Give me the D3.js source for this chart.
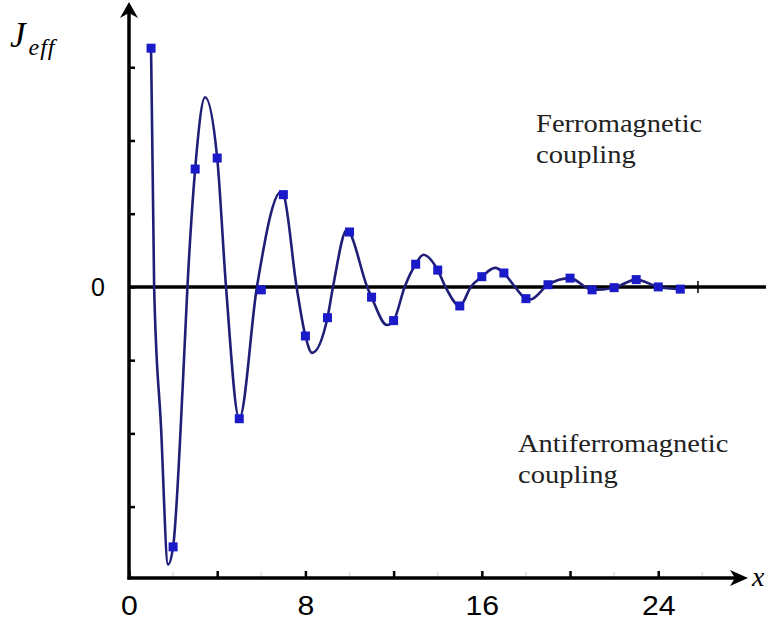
<!DOCTYPE html>
<html>
<head>
<meta charset="utf-8">
<script src="https://cdn.jsdelivr.net/npm/d3@7"></script>
<style>
  html, body { margin: 0; padding: 0; background: #ffffff; }
  svg { display: block; }
</style>
</head>
<body>
<svg id="chart" width="766" height="628"></svg>
<script>
// ---- Data ----
// Marker squares (computed values at integer x)
const markerX = [1, 2, 3, 4, 5, 6, 7, 8, 9, 10, 11, 12, 13, 14, 15, 16, 17, 18, 19, 20, 21, 22, 23, 24, 25];
const markerJ = [3.26, -3.55, 1.61, 1.76, -1.80, -0.04, 1.26, -0.67, -0.42, 0.75, -0.14, -0.46, 0.31, 0.23,
                 -0.26, 0.14, 0.19, -0.16, 0.03, 0.12, -0.04, -0.01, 0.10, 0.00, -0.03];
// Continuous curve (extrema and zero crossings included)
const curveX = [1.00, 1.14, 1.45, 1.77, 2.00, 2.45, 2.65, 3.00, 3.45, 4.00, 4.40, 5.00, 5.80, 6.90, 7.00,
                7.60, 8.00, 8.30, 9.00, 9.25, 9.90, 10.00, 10.80, 11.00, 11.70, 12.00, 12.50, 13.00, 13.35,
                14.00, 14.35, 15.00, 15.50, 16.00, 16.60, 17.00, 17.50, 18.00, 18.20, 19.00, 20.00, 21.00,
                22.00, 23.00, 24.00, 25.00];
const curveJ = [3.26, 0.00, -1.90, -3.79, -3.55, -1.27, 0.00, 1.61, 2.59, 1.76, 0.00, -1.80, 0.00, 1.30, 1.27,
                0.00, -0.67, -0.90, -0.42, 0.00, 0.79, 0.75, 0.00, -0.14, -0.52, -0.46, 0.00, 0.31, 0.44,
                0.23, 0.00, -0.26, 0.00, 0.14, 0.26, 0.19, 0.00, -0.16, -0.17, 0.03, 0.12, -0.04,
                -0.01, 0.10, 0.00, -0.03];
const xTickValues = [0, 4, 8, 12, 16, 20, 24];
const xTickLabels = {0: "0", 8: "8", 16: "16", 24: "24"};
const xMinorTicks = [2, 6, 10, 14, 18, 22, 26];
const yTickValues = [-3, -2, -1, 0, 1, 2, 3];
const yTickLabels = {0: "0"};
const endTickX = [25.8];
const annotations = [
  {lines: ["Ferromagnetic", "coupling"], x: 18.46, y: 2.12},
  {lines: ["Antiferromagnetic", "coupling"], x: 17.64, y: -2.25}
];

// ---- Layout ----
const svg = d3.select("#chart");
const x = d3.scaleLinear().domain([0, 28.07]).range([129, 748]);
const y = d3.scaleLinear().domain([-3.975, 3.85]).range([578, 5]);

const lineColor = "#1f1f78";
const markColor = "#1a1ac8";

// zero line across the plot
svg.append("line")
  .attr("x1", x(0)).attr("x2", 766)
  .attr("y1", y(0)).attr("y2", y(0))
  .attr("stroke", "#000").attr("stroke-width", 3.5);

// minor x ticks (faint)
svg.append("g").selectAll("line").data(xMinorTicks).join("line")
  .attr("x1", d => x(d)).attr("x2", d => x(d))
  .attr("y1", y(-3.975)).attr("y2", y(-3.975) - 6)
  .attr("stroke", "#e4e4e4").attr("stroke-width", 2);

// x axis via d3 axis
const xAxis = d3.axisBottom(x)
  .tickValues(xTickValues)
  .tickSizeInner(-7).tickSizeOuter(0)
  .tickFormat(d => xTickLabels[d] || "");
const gx = svg.append("g").attr("transform", `translate(0,${y(-3.975)})`).call(xAxis);
gx.select(".domain").remove();
gx.selectAll(".tick line").attr("stroke", "#000").attr("stroke-width", 2.5);
gx.selectAll(".tick text")
  .attr("y", 0).attr("dy", null)
  .attr("transform", "translate(0,37) scale(1.12,1)")
  .attr("font-family", "Liberation Sans, Arial, sans-serif")
  .attr("font-size", 27).attr("fill", "#000");

// y axis via d3 axis
const yAxis = d3.axisLeft(y)
  .tickValues(yTickValues)
  .tickSizeInner(-6).tickSizeOuter(0)
  .tickFormat(d => yTickLabels[d] || "");
const gy = svg.append("g").attr("transform", `translate(${x(0)},0)`).call(yAxis);
gy.select(".domain").remove();
gy.selectAll(".tick line").attr("stroke", "#000").attr("stroke-width", 2.5);
gy.selectAll(".tick text")
  .attr("x", -24).attr("dy", "0.36em")
  .attr("font-family", "Liberation Sans, Arial, sans-serif")
  .attr("font-size", 25).attr("fill", "#000");

// axis lines with arrowheads
svg.append("line")
  .attr("x1", x(0)).attr("x2", x(0))
  .attr("y1", y(-3.975) + 1.5).attr("y2", 8)
  .attr("stroke", "#000").attr("stroke-width", 3.5);
svg.append("path")
  .attr("d", `M${x(0)},2 L${x(0) - 9},18 L${x(0)},13 L${x(0) + 9},18 Z`)
  .attr("fill", "#000");
svg.append("line")
  .attr("x1", x(0) - 1.5).attr("x2", 740)
  .attr("y1", y(-3.975)).attr("y2", y(-3.975))
  .attr("stroke", "#000").attr("stroke-width", 3.5);
svg.append("path")
  .attr("d", `M748,${y(-3.975)} L730,${y(-3.975) - 8} L735,${y(-3.975)} L730,${y(-3.975) + 8} Z`)
  .attr("fill", "#000");

// small tick at the end of the zero line
svg.append("g").selectAll("line").data(endTickX).join("line")
  .attr("x1", d => x(d)).attr("x2", d => x(d))
  .attr("y1", y(0) - 6).attr("y2", y(0) + 6)
  .attr("stroke", "#000").attr("stroke-width", 1.5);

// curve
const curveData = curveX.map((d, i) => [d, curveJ[i]]);
const line = d3.line()
  .x(d => x(d[0])).y(d => y(d[1]))
  .curve(d3.curveMonotoneX);
svg.append("path")
  .datum(curveData)
  .attr("d", line)
  .attr("fill", "none")
  .attr("stroke", lineColor)
  .attr("stroke-width", 2.6)
  .attr("stroke-linejoin", "round");

// markers
const ms = 9;
svg.append("g").selectAll("rect").data(markerX.map((d, i) => [d, markerJ[i]])).join("rect")
  .attr("x", d => x(d[0]) - ms / 2).attr("y", d => y(d[1]) - ms / 2)
  .attr("width", ms).attr("height", ms)
  .attr("fill", markColor);

// axis titles
const jl = svg.append("text")
  .attr("x", 10).attr("y", 47)
  .attr("font-family", "Liberation Serif, Times New Roman, serif")
  .attr("font-style", "italic").attr("font-size", 35).attr("fill", "#000");
jl.append("tspan").text("J");
jl.append("tspan").attr("dy", 8).attr("dx", 3).attr("font-size", 24).attr("letter-spacing", 1).text("eff");

svg.append("text")
  .attr("x", 752).attr("y", 586)
  .attr("font-family", "Liberation Serif, Times New Roman, serif")
  .attr("font-style", "italic").attr("font-size", 28).attr("fill", "#000")
  .text("x");

// annotations
annotations.forEach(a => {
  a.lines.forEach((ln, i) => {
    svg.append("text")
      .attr("transform", `translate(${x(a.x)},${y(a.y) + i * 31}) scale(1.14,1)`)
      .attr("font-family", "Liberation Serif, Times New Roman, serif")
      .attr("font-size", 25).attr("fill", "#222")
      .text(ln);
  });
});
</script>
</body>
</html>
